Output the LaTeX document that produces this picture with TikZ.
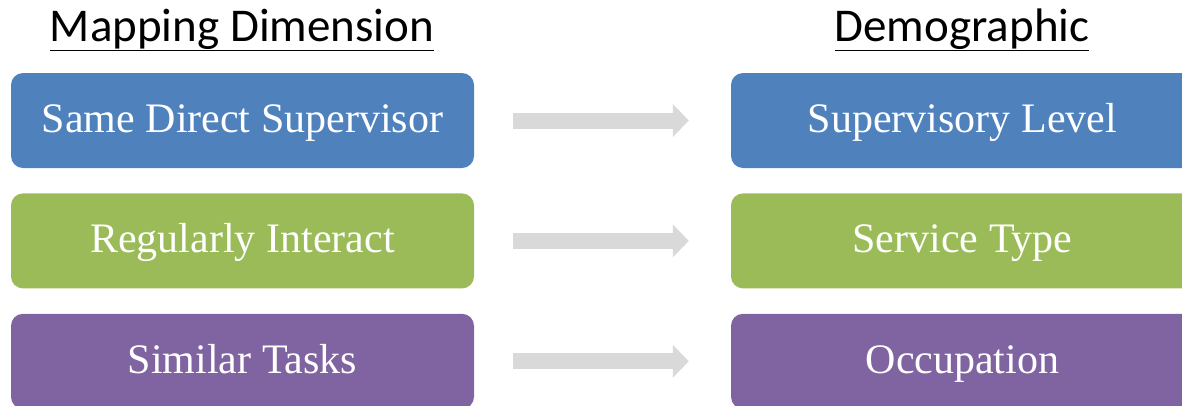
\documentclass[tikz,border=0pt]{standalone}
\usepackage{fontspec}
\setmainfont{Liberation Serif}
\newfontfamily\headfont{Carlito}
\usetikzlibrary{positioning}
\usetikzlibrary{arrows.meta}
\definecolor{boxBlue}{HTML}{4F81BD}
\definecolor{boxGreen}{HTML}{9BBB59}
\definecolor{boxPurple}{HTML}{8064A2}
\definecolor{arrowGray}{HTML}{D9D9D9}
\tikzset{
  font={\fontsize{42pt}{46pt}\selectfont}
}
\tikzstyle{mapbox}=[rectangle,rounded corners=12pt,minimum width=463pt,minimum height=95pt,inner sep=0pt,text height=24pt,text depth=0pt,text=white]
\tikzstyle{heading}=[font={\headfont\fontsize{47pt}{50pt}\selectfont},anchor=base,inner sep=0pt]
\tikzstyle{mapArrow}=[-{Triangle[width=32pt,length=16pt]},line width=16pt,draw=arrowGray,shorten <=39pt,shorten >=42pt]
\begin{document}
\begin{tikzpicture}[x=1pt,y=-1pt]
    \clip (0,0) rectangle (1182,405);

    % headings
    \node[heading] (head-map) at (242,41) {\underline{Mapping Dimension}};
    \node[heading] (head-demo) at (962,41) {\underline{Demographic}};

    % left column
    \node[mapbox,fill=boxBlue] (map-1) at (242.5,120.5) {Same Direct Supervisor};
    \node[mapbox,fill=boxGreen,below=25pt of map-1] (map-2) {Regularly Interact};
    \node[mapbox,fill=boxPurple,below=25pt of map-2] (map-3) {Similar Tasks};

    % right column
    \node[mapbox,fill=boxBlue] (demo-1) at (962.5,120.5) {Supervisory Level};
    \node[mapbox,fill=boxGreen,below=25pt of demo-1] (demo-2) {Service Type};
    \node[mapbox,fill=boxPurple,below=25pt of demo-2] (demo-3) {Occupation};

    % Draw arrows between the columns
    \foreach \i in {1,2,3}
        \draw[mapArrow] (map-\i) -- (demo-\i);
\end{tikzpicture}
\end{document}
